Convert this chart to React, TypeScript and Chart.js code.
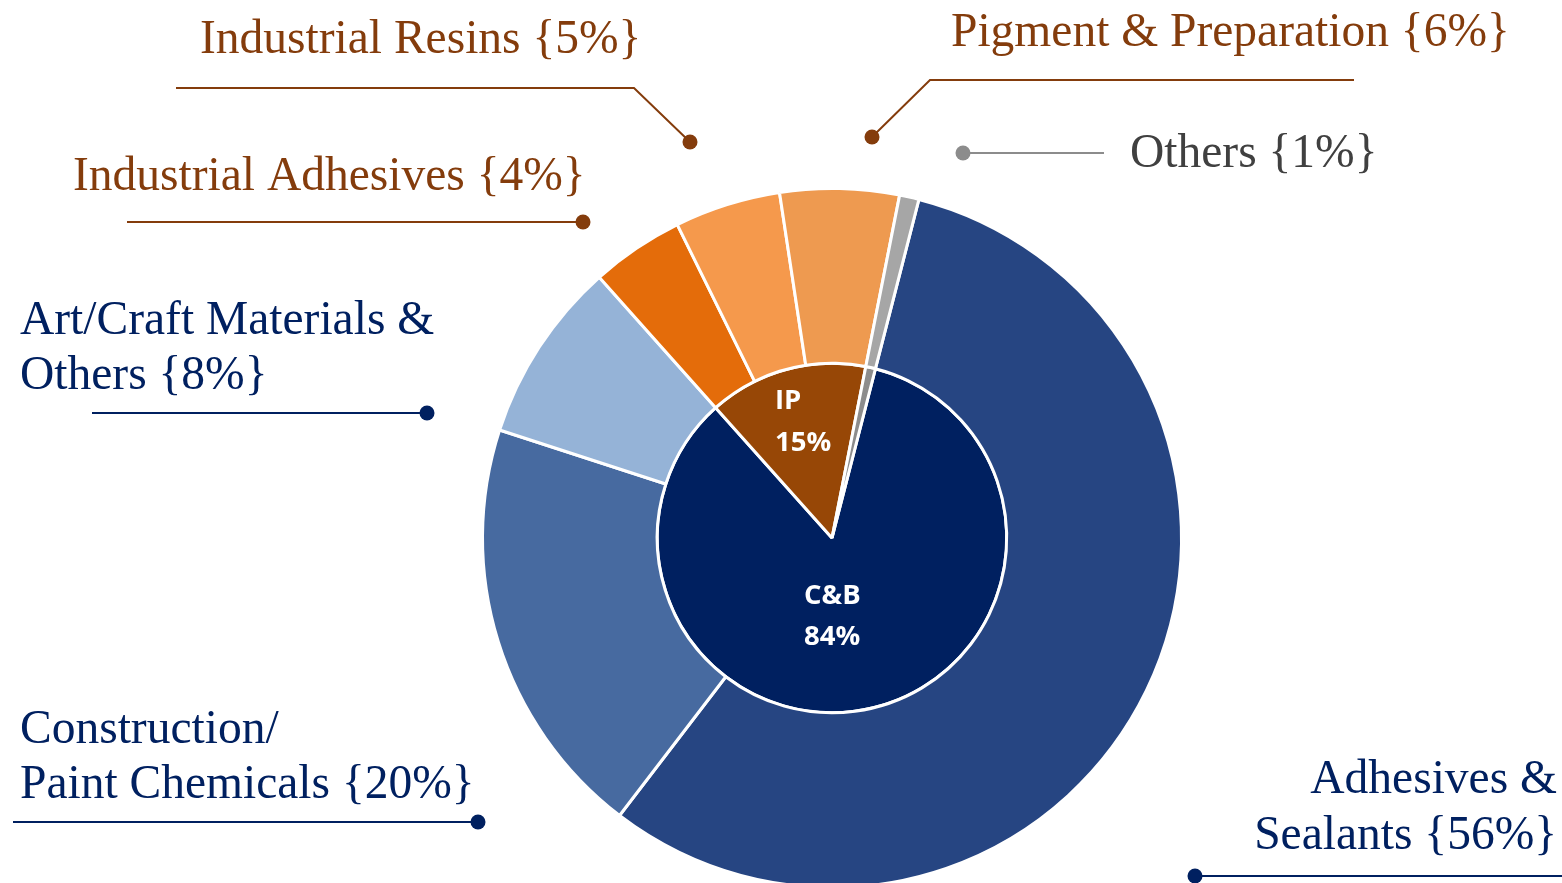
import React, { useEffect, useRef } from "react";
import { Chart, registerables } from "chart.js";

Chart.register(...registerables);

// ---- Data ----
const outerCategories = [
  "Adhesives & Sealants",
  "Construction/Paint Chemicals",
  "Art/Craft Materials & Others",
  "Industrial Adhesives",
  "Industrial Resins",
  "Pigment & Preparation",
  "Others",
];
const outerValues = [56.4, 19.6, 8.4, 4.3, 4.9, 5.5, 0.9];
const outerPercentLabels = ["56%", "20%", "8%", "4%", "5%", "6%", "1%"];

const innerCategories = ["C&B", "IP", "Others"];
const innerValues = [84.4, 14.7, 0.9];
const innerPercentLabels = ["84%", "15%", "1%"];

// ---- Styles ----
const outerColors = ["#264582", "#476AA0", "#95B3D7", "#E46C0A", "#F5994C", "#EE9A50", "#A6A6A6"];
const innerColors = ["#002060", "#974706", "#8C8C8C"];

const NAVY = "#002060";
const BROWN = "#843C0C";
const GREY_TEXT = "#404040";
const GREY_LINE = "#8C8C8C";

type Pt = [number, number];
interface OuterLabelLayout {
  split: number; // char index where the label wraps (0 = single line)
  x: number;
  align: CanvasTextAlign;
  baselines: number[];
  color: string;
  lineColor: string;
  path: Pt[];
  dot: Pt;
}

const outerLayout: OuterLabelLayout[] = [
  { split: 11, x: 1557, align: "right", baselines: [793, 849], color: NAVY, lineColor: NAVY, path: [[1195, 876], [1562, 876]], dot: [1195, 876] },
  { split: 13, x: 20, align: "left", baselines: [743, 798], color: NAVY, lineColor: NAVY, path: [[13, 822], [478, 822]], dot: [478, 822] },
  { split: 21, x: 20, align: "left", baselines: [334, 389], color: NAVY, lineColor: NAVY, path: [[92, 413], [427, 413]], dot: [427, 413] },
  { split: 0, x: 73, align: "left", baselines: [190], color: BROWN, lineColor: BROWN, path: [[127, 222], [583, 222]], dot: [583, 222] },
  { split: 0, x: 200, align: "left", baselines: [53], color: BROWN, lineColor: BROWN, path: [[176, 88], [634, 88], [690, 142]], dot: [690, 142] },
  { split: 0, x: 951, align: "left", baselines: [46], color: BROWN, lineColor: BROWN, path: [[1354, 80], [930, 80], [872, 137]], dot: [872, 137] },
  { split: 0, x: 1130, align: "left", baselines: [167], color: GREY_TEXT, lineColor: GREY_LINE, path: [[963, 153], [1104, 153]], dot: [963, 153] },
];

const innerLayout = [
  { x: 804, baselines: [604, 645] },
  { x: 775, baselines: [409, 451] },
  null,
];

const labelPlugin = {
  id: "sunburstLabels",
  afterDraw(chart: any) {
    const ctx: CanvasRenderingContext2D = chart.ctx;
    ctx.save();
    // outer labels
    outerCategories.forEach((cat, i) => {
      const lay = outerLayout[i];
      const full = `${cat} {${outerPercentLabels[i]}}`;
      const lines = lay.split > 0 ? [full.slice(0, lay.split).trim(), full.slice(lay.split).trim()] : [full];
      ctx.font = '47.5px "Liberation Serif", serif';
      ctx.fillStyle = lay.color;
      ctx.textAlign = lay.align;
      ctx.textBaseline = "alphabetic";
      lines.forEach((ln, j) => ctx.fillText(ln, lay.x, lay.baselines[j]));
      // leader
      ctx.strokeStyle = lay.lineColor;
      ctx.lineWidth = 2;
      ctx.beginPath();
      lay.path.forEach((p, k) => (k === 0 ? ctx.moveTo(p[0], p[1]) : ctx.lineTo(p[0], p[1])));
      ctx.stroke();
      ctx.fillStyle = lay.lineColor;
      ctx.beginPath();
      ctx.arc(lay.dot[0], lay.dot[1], 7.5, 0, Math.PI * 2);
      ctx.fill();
    });
    // inner labels
    innerCategories.forEach((cat, i) => {
      const lay = innerLayout[i];
      if (!lay) return;
      ctx.font = 'bold 27.5px "Open Sans", sans-serif';
      ctx.fillStyle = "#FFFFFF";
      ctx.textAlign = "left";
      ctx.fillText(cat, lay.x, lay.baselines[0]);
      ctx.fillText(innerPercentLabels[i], lay.x, lay.baselines[1]);
    });
    ctx.restore();
  },
};

export default function App() {
  const ref = useRef<HTMLCanvasElement | null>(null);
  useEffect(() => {
    if (!ref.current) return;
    const chart = new Chart(ref.current, {
      type: "doughnut",
      data: {
        labels: outerCategories,
        datasets: [
          { data: outerValues, backgroundColor: outerColors, borderColor: "#FFFFFF", borderWidth: 3 },
          { data: innerValues, backgroundColor: innerColors, borderColor: "#FFFFFF", borderWidth: 3 },
        ],
      },
      options: {
        responsive: false,
        animation: false,
        cutout: 0,
        rotation: 14.4,
        layout: { padding: { left: 481, top: 187, right: 379, bottom: 11 } },
        plugins: { legend: { display: false }, tooltip: { enabled: false } },
      },
      plugins: [labelPlugin],
    });
    return () => chart.destroy();
  }, []);
  return (
    <div style={{ position: "fixed", left: 0, top: 0, width: 1562, height: 883, overflow: "hidden", background: "#fff" }}>
      <canvas ref={ref} width={1562} height={900} style={{ display: "block", width: 1562, height: 900 }} />
    </div>
  );
}
